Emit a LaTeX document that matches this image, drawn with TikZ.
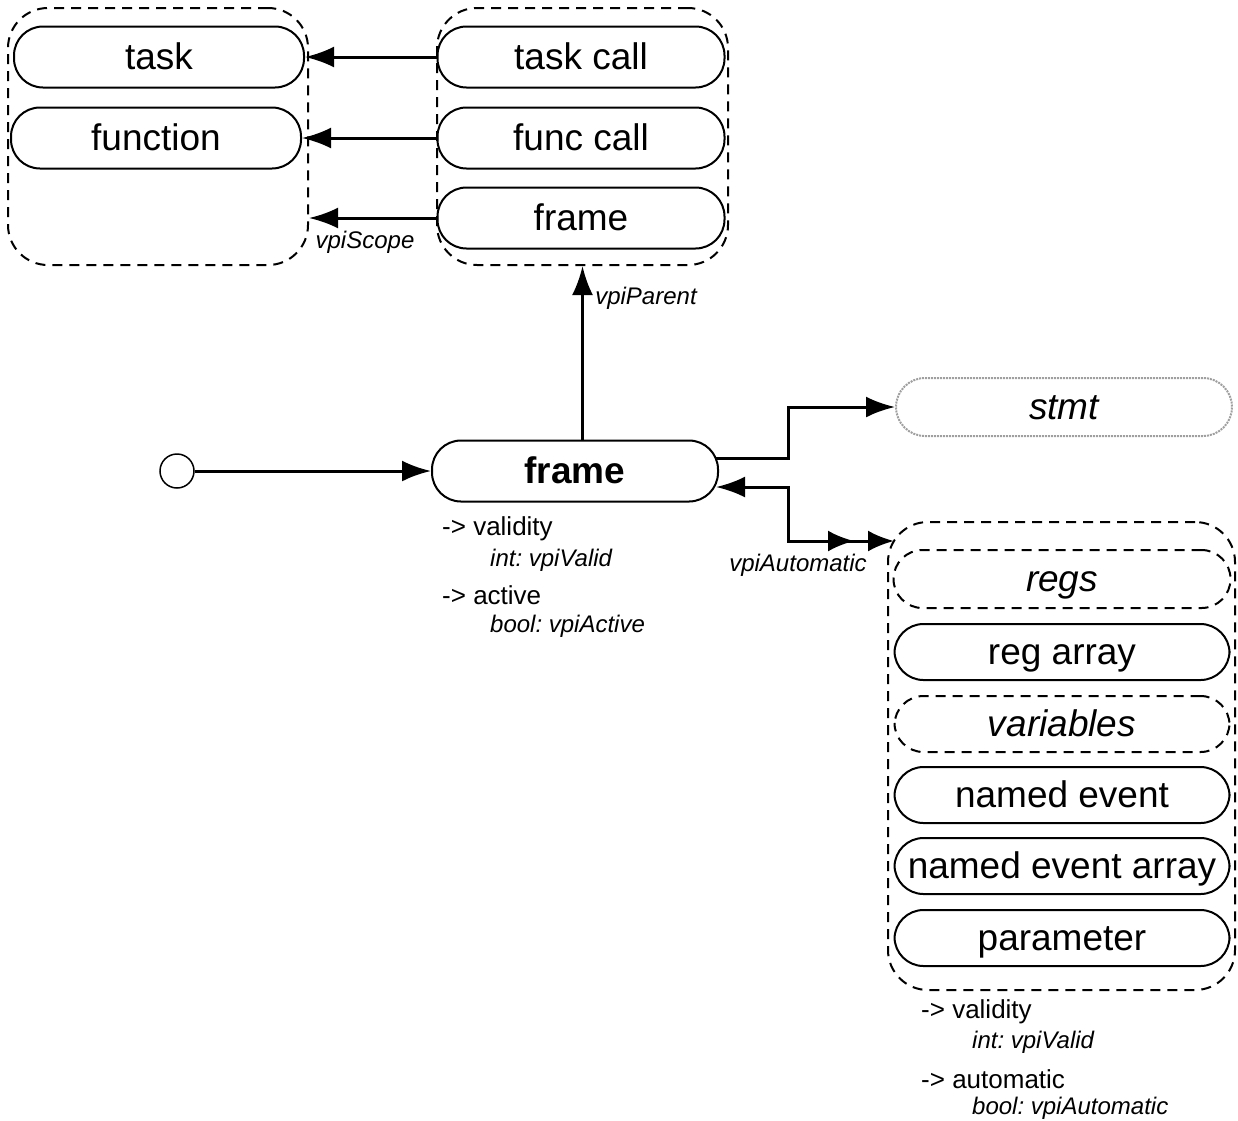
\documentclass[tikz,border=0pt]{standalone}
\usepackage{fontspec}
\setmainfont{Liberation Sans}
\usetikzlibrary{arrows.meta,calc}
\frenchspacing
\begin{document}
\begin{tikzpicture}[x=1pt,y=-1pt,
  obj/.style={draw,line width=2pt,rounded corners=29pt,minimum width=290pt,minimum height=61pt,inner xsep=2pt,text height=27pt,text depth=3pt,font=\fontsize{37}{44}\selectfont},
  objd/.style={obj,dashed,dash pattern=on 10pt off 7pt},
  cont/.style={draw,line width=2pt,dash pattern=on 10pt off 7pt,rounded corners=40pt},
  conn/.style={line width=3pt,-{Latex[length=29pt,width=21pt]}},
  lbl/.style={font=\fontsize{24}{28}\selectfont\itshape,inner sep=0pt},
  ann/.style={font=\fontsize{26}{30}\selectfont,inner sep=0pt,anchor=west},
  anni/.style={ann,font=\fontsize{24}{28}\selectfont\itshape}]
\useasboundingbox (0,0) rectangle (1238,1120);
% containers
\node[cont,minimum width=300pt,minimum height=257pt] (c1) at (158,136.5) {};
\node[cont,minimum width=291pt,minimum height=257pt] (c2) at (582.5,136.5) {};
\node[cont,minimum width=347pt,minimum height=468pt] (c3) at (1061.5,756) {};
% left
\node[obj] (task) at (159,57) {task};
\node[obj] (func) at (156,138) {function};
% right top
\node[obj,minimum width=287pt] (tcall) at (581,57) {task call};
\node[obj,minimum width=287pt] (fcall) at (581,138) {func call};
\node[obj,minimum width=287pt] (ftop) at (581,218) {frame};
% main
\node[obj,minimum width=286pt] (fr) at (575,471) {\bfseries frame};
\node[draw,circle,line width=1.5pt,minimum size=34pt,inner sep=0pt] (start) at (177,471) {};
\node[obj,draw=gray!75,densely dotted,minimum width=336pt,minimum height=58pt] (stmt) at (1064,407) {\itshape stmt};
% right column
\node[objd,minimum width=337pt,minimum height=58pt] (regs) at (1062,579) {\itshape regs};
\node[obj,minimum width=335pt,minimum height=56pt] (rega) at (1062,652) {reg array};
\node[objd,minimum width=335pt,minimum height=56pt] (vars) at (1062,724) {\itshape variables};
\node[obj,minimum width=335pt,minimum height=56pt] (nev) at (1062,795) {named event};
\node[obj,minimum width=335pt,minimum height=56pt] (neva) at (1062,866) {named event array};
\node[obj,minimum width=335pt,minimum height=56pt] (par) at (1062,938) {parameter};
% connectors
\draw[conn] (tcall.west) -- (task.east);
\draw[conn] (fcall.west) -- (func.east);
\draw[conn] (ftop.west) -- (c1.east |- ftop.west);
\node[lbl] (lscope) at (365,242) {vpiScope};
\draw[conn] (c2.south |- fr.north) -- (c2.south);
\node[lbl] (lparent) at (646,298) {vpiParent};
\draw[conn] (start.east) -- (fr.west);
\coordinate (b1) at (788,458);
\draw[conn] ($(fr.east)+(-3,-13)$) -- (b1) |- (stmt.west);
\coordinate (b2) at (788,541);
\coordinate (autoin) at (894,541);
\draw[line width=3pt,{Latex[length=29pt,width=21pt]}-{Latex[length=26pt,width=21pt,sep=14pt]Latex[length=26pt,width=21pt]}] ($(fr.east)+(-3,16)$) -| (b2) -- (autoin);
\node[lbl] (lauto) at (798,565) {vpiAutomatic};
% annotations
\node[ann] (a1) at (442,529) {-> validity};
\node[anni] (a2) at (490,560) {int: vpiValid};
\node[ann] (a3) at (442,595) {-> active};
\node[anni] (a4) at (490,626) {bool: vpiActive};
\node[ann] (b1t) at (921,1012) {-> validity};
\node[anni] (b2t) at (972,1042) {int: vpiValid};
\node[ann] (b3t) at (921,1079) {-> automatic};
\node[anni] (b4t) at (972,1108) {bool: vpiAutomatic};
\end{tikzpicture}
\end{document}
